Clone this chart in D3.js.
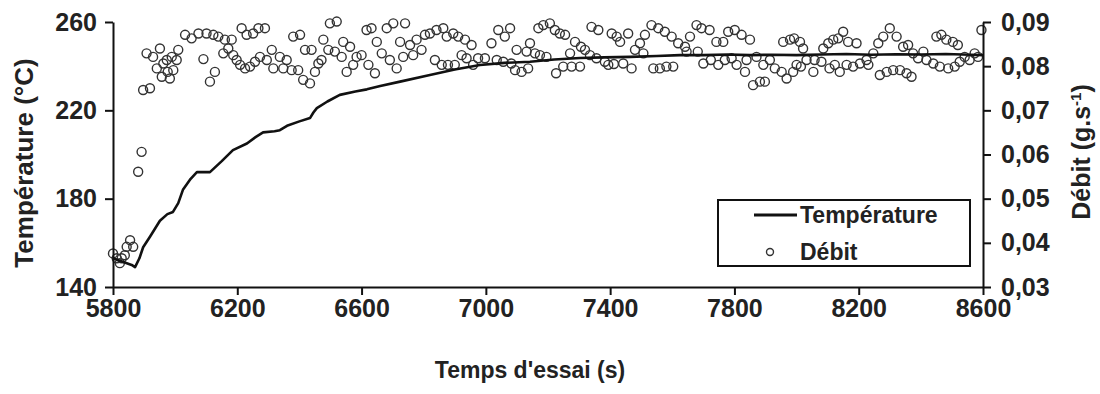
<!DOCTYPE html>
<html>
<head>
<meta charset="utf-8">
<script src="https://cdn.jsdelivr.net/npm/d3@7"></script>
<style>
  html, body { margin: 0; padding: 0; background: #fff; }
  svg { display: block; font-family: "Liberation Sans", Arial, sans-serif; }
</style>
</head>
<body>
<svg id="chart" width="1100" height="394"></svg>
<script>
// ---- Data ----
const tempTime = [5800, 5820, 5840, 5860, 5871, 5885, 5897, 5920, 5951, 5975, 5993, 6010, 6025, 6050, 6070, 6112, 6150, 6186, 6231, 6260, 6283, 6320, 6337, 6360, 6400, 6434, 6445, 6456, 6490, 6530, 6580, 6617, 6660, 6724, 6820, 6900, 6981, 7060, 7142, 7220, 7303, 7380, 7464, 7550, 7625, 7700, 7780, 7850, 7920, 8000, 8080, 8160, 8240, 8320, 8400, 8480, 8560, 8600];
const tempValues = [153, 152, 151, 150, 149, 153, 158, 163, 170, 173, 174, 178, 184, 189, 192, 192, 197, 202, 205, 208, 210, 210.5, 211, 213, 215, 216.5, 219, 221, 224, 227, 228.5, 229.5, 231, 233, 236, 238.5, 240.5, 241.5, 242, 243, 243.7, 244, 244.2, 244.6, 245, 245, 245.3, 245, 245.2, 245, 245.3, 245.5, 245.2, 245.4, 245.3, 245.5, 245.2, 245];

const debitTime = [5800, 5812, 5822, 5828, 5838, 5844, 5855, 5865, 5881, 5892, 5897, 5908, 5919, 5929, 5941, 5951, 5957, 5962, 5973, 5976, 5983, 5989, 5994, 6005, 6010, 6032, 6053, 6075, 6091, 6101, 6112, 6123, 6128, 6139, 6155, 6160, 6171, 6182, 6187, 6198, 6209, 6214, 6225, 6230, 6241, 6251, 6257, 6268, 6273, 6289, 6295, 6311, 6316, 6337, 6348, 6359, 6375, 6380, 6396, 6402, 6412, 6418, 6434, 6439, 6450, 6461, 6471, 6477, 6493, 6498, 6514, 6520, 6536, 6541, 6552, 6563, 6573, 6584, 6600, 6616, 6622, 6632, 6643, 6649, 6665, 6681, 6691, 6702, 6713, 6724, 6734, 6740, 6756, 6766, 6777, 6793, 6804, 6820, 6836, 6841, 6858, 6863, 6874, 6878, 6895, 6900, 6911, 6922, 6933, 6938, 6954, 6959, 6975, 6997, 7018, 7035, 7040, 7056, 7061, 7078, 7082, 7094, 7099, 7115, 7131, 7136, 7142, 7158, 7169, 7174, 7185, 7195, 7206, 7222, 7226, 7238, 7249, 7255, 7271, 7276, 7287, 7303, 7306, 7319, 7335, 7340, 7356, 7362, 7383, 7394, 7405, 7412, 7421, 7432, 7442, 7458, 7469, 7480, 7496, 7507, 7512, 7533, 7539, 7555, 7560, 7576, 7581, 7598, 7603, 7619, 7641, 7646, 7657, 7678, 7682, 7694, 7700, 7720, 7724, 7742, 7748, 7764, 7769, 7780, 7791, 7801, 7807, 7823, 7834, 7839, 7850, 7860, 7871, 7882, 7893, 7898, 7914, 7930, 7952, 7957, 7968, 7979, 7989, 7992, 8000, 8011, 8014, 8021, 8032, 8054, 8058, 8080, 8086, 8102, 8106, 8118, 8123, 8134, 8139, 8150, 8161, 8166, 8182, 8193, 8204, 8225, 8231, 8247, 8263, 8268, 8279, 8290, 8300, 8311, 8322, 8333, 8343, 8354, 8359, 8370, 8375, 8391, 8408, 8418, 8440, 8450, 8461, 8466, 8482, 8488, 8503, 8509, 8519, 8525, 8541, 8557, 8573, 8584, 8595];
const debitValues = [0.0376, 0.0365, 0.0354, 0.0365, 0.0372, 0.0391, 0.0406, 0.0391, 0.0561, 0.0606, 0.0746, 0.0829, 0.0750, 0.0821, 0.0795, 0.0840, 0.0776, 0.0806, 0.0814, 0.0787, 0.0772, 0.0821, 0.0791, 0.0814, 0.0837, 0.0871, 0.0863, 0.0874, 0.0816, 0.0874, 0.0765, 0.0871, 0.0787, 0.0867, 0.0829, 0.0860, 0.0840, 0.0860, 0.0825, 0.0814, 0.0803, 0.0886, 0.0795, 0.0871, 0.0799, 0.0874, 0.0810, 0.0886, 0.0821, 0.0886, 0.0814, 0.0837, 0.0795, 0.0821, 0.0795, 0.0814, 0.0791, 0.0867, 0.0791, 0.0871, 0.0769, 0.0837, 0.0761, 0.0837, 0.0787, 0.0806, 0.0814, 0.0860, 0.0837, 0.0897, 0.0833, 0.0901, 0.0821, 0.0855, 0.0787, 0.0844, 0.0803, 0.0821, 0.0825, 0.0882, 0.0803, 0.0886, 0.0784, 0.0855, 0.0829, 0.0886, 0.0814, 0.0897, 0.0795, 0.0855, 0.0821, 0.0897, 0.0848, 0.0825, 0.0860, 0.0837, 0.0871, 0.0874, 0.0814, 0.0882, 0.0803, 0.0886, 0.0867, 0.0803, 0.0874, 0.0803, 0.0867, 0.0825, 0.0860, 0.0818, 0.0848, 0.0803, 0.0818, 0.0818, 0.0852, 0.0814, 0.0882, 0.0810, 0.0867, 0.0886, 0.0806, 0.0791, 0.0837, 0.0787, 0.0833, 0.0795, 0.0852, 0.0829, 0.0886, 0.0825, 0.0893, 0.0821, 0.0897, 0.0882, 0.0784, 0.0874, 0.0799, 0.0871, 0.0829, 0.0799, 0.0855, 0.0799, 0.0844, 0.0837, 0.0825, 0.0889, 0.0818, 0.0882, 0.0810, 0.0803, 0.0874, 0.0805, 0.0867, 0.0855, 0.0806, 0.0874, 0.0795, 0.0837, 0.0852, 0.0829, 0.0871, 0.0893, 0.0795, 0.0886, 0.0795, 0.0878, 0.0799, 0.0867, 0.0799, 0.0852, 0.0844, 0.0833, 0.0867, 0.0893, 0.0833, 0.0886, 0.0806, 0.0882, 0.0814, 0.0855, 0.0803, 0.0855, 0.0814, 0.0878, 0.0818, 0.0882, 0.0803, 0.0871, 0.0787, 0.0814, 0.0860, 0.0757, 0.0821, 0.0765, 0.0803, 0.0765, 0.0814, 0.0795, 0.0787, 0.0855, 0.0772, 0.0860, 0.0787, 0.0863, 0.0803, 0.0855, 0.0799, 0.0840, 0.0814, 0.0787, 0.0814, 0.0810, 0.0840, 0.0852, 0.0795, 0.0860, 0.0803, 0.0863, 0.0787, 0.0878, 0.0803, 0.0855, 0.0799, 0.0852, 0.0806, 0.0814, 0.0803, 0.0829, 0.0852, 0.0780, 0.0867, 0.0787, 0.0886, 0.0791, 0.0867, 0.0791, 0.0844, 0.0784, 0.0848, 0.0776, 0.0829, 0.0818, 0.0833, 0.0814, 0.0806, 0.0867, 0.0799, 0.0871, 0.0860, 0.0795, 0.0855, 0.0799, 0.0848, 0.0810, 0.0821, 0.0814, 0.0829, 0.0821, 0.0882];

const xTicks = [5800, 6200, 6600, 7000, 7400, 7800, 8200, 8600];
const tempTicks = [140, 180, 220, 260];
const debitTicks = [0.03, 0.04, 0.05, 0.06, 0.07, 0.08, 0.09];

const labels = {
  x: "Temps d'essai (s)",
  yLeft: "Température  (°C)",
  yRight: "Débit (g.s",
  yRightSup: "-1",
  legendTemp: "Température",
  legendDebit: "Débit"
};

// ---- Layout ----
const plotL = 113, plotR = 983, plotT = 22, plotB = 287;
const svg = d3.select("#chart");

const x = d3.scaleLinear().domain([5800, 8600]).range([plotL, plotR]);
const yT = d3.scaleLinear().domain([140, 260]).range([plotB, plotT]);
const yD = d3.scaleLinear().domain([0.03, 0.09]).range([plotB, plotT]);

const tickFont = "25px";

// Circles (Débit)
const debit = debitTime.map((t, i) => ({ t, v: debitValues[i] }));
svg.append("g")
  .selectAll("circle")
  .data(debit)
  .enter().append("circle")
  .attr("cx", d => x(d.t))
  .attr("cy", d => yD(d.v))
  .attr("r", 4.5)
  .attr("fill", "none")
  .attr("stroke", "#333")
  .attr("stroke-width", 1.4);

// Line (Température)
const temp = tempTime.map((t, i) => ({ t, v: tempValues[i] }));
svg.append("path")
  .datum(temp)
  .attr("fill", "none")
  .attr("stroke", "#111")
  .attr("stroke-width", 2.6)
  .attr("stroke-linejoin", "round")
  .attr("d", d3.line().x(d => x(d.t)).y(d => yT(d.v)));

// Axes
function styleAxis(g) {
  g.select(".domain").attr("stroke", "#111").attr("stroke-width", 2);
  g.selectAll(".tick line").attr("stroke", "#111").attr("stroke-width", 2);
  g.selectAll(".tick text")
    .attr("fill", "#222")
    .style("font-size", tickFont)
    .style("font-weight", "bold")
    .style("font-family", '"Liberation Sans", Arial, sans-serif');
}

svg.append("g")
  .attr("transform", `translate(0,${plotB})`)
  .call(d3.axisBottom(x).tickValues(xTicks).tickSize(8).tickSizeOuter(0).tickPadding(4).tickFormat(d3.format("d")))
  .call(styleAxis);

svg.append("g")
  .attr("transform", `translate(${plotL},0)`)
  .call(d3.axisLeft(yT).tickValues(tempTicks).tickSize(8).tickSizeOuter(0).tickPadding(8).tickFormat(d3.format("d")))
  .call(styleAxis);

svg.append("g")
  .attr("transform", `translate(${plotR},0)`)
  .call(d3.axisRight(yD).tickValues(debitTicks).tickSize(8).tickSizeOuter(0).tickPadding(10)
    .tickFormat(d => d.toFixed(2).replace(".", ",")))
  .call(styleAxis);

// Axis titles
svg.append("text")
  .attr("x", 530).attr("y", 378)
  .attr("text-anchor", "middle")
  .attr("fill", "#222")
  .style("font-size", "23px").style("font-weight", "bold")
  .text(labels.x);

svg.append("text")
  .attr("transform", "translate(33,163) rotate(-90)")
  .attr("text-anchor", "middle")
  .attr("fill", "#222")
  .style("font-size", "26px").style("font-weight", "bold")
  .text(labels.yLeft);

const rt = svg.append("text")
  .attr("transform", "translate(1090,152) rotate(-90)")
  .attr("text-anchor", "middle")
  .attr("fill", "#222")
  .style("font-size", "25px").style("font-weight", "bold");
rt.append("tspan").text(labels.yRight);
rt.append("tspan").attr("dy", -9).style("font-size", "15px").text(labels.yRightSup);
rt.append("tspan").attr("dy", 9).text(")");

// Legend
const lg = svg.append("g");
lg.append("rect")
  .attr("x", 718).attr("y", 200).attr("width", 252).attr("height", 66)
  .attr("fill", "#fff").attr("stroke", "#111").attr("stroke-width", 2);
lg.append("line")
  .attr("x1", 754).attr("x2", 797).attr("y1", 215).attr("y2", 215)
  .attr("stroke", "#111").attr("stroke-width", 3);
lg.append("text")
  .attr("x", 800).attr("y", 223)
  .attr("fill", "#222")
  .style("font-size", "23px").style("font-weight", "bold")
  .text(labels.legendTemp);
lg.append("circle")
  .attr("cx", 770).attr("cy", 252).attr("r", 3.5)
  .attr("fill", "none").attr("stroke", "#333").attr("stroke-width", 1.4);
lg.append("text")
  .attr("x", 800).attr("y", 260)
  .attr("fill", "#222")
  .style("font-size", "23px").style("font-weight", "bold")
  .text(labels.legendDebit);
</script>
</body>
</html>
